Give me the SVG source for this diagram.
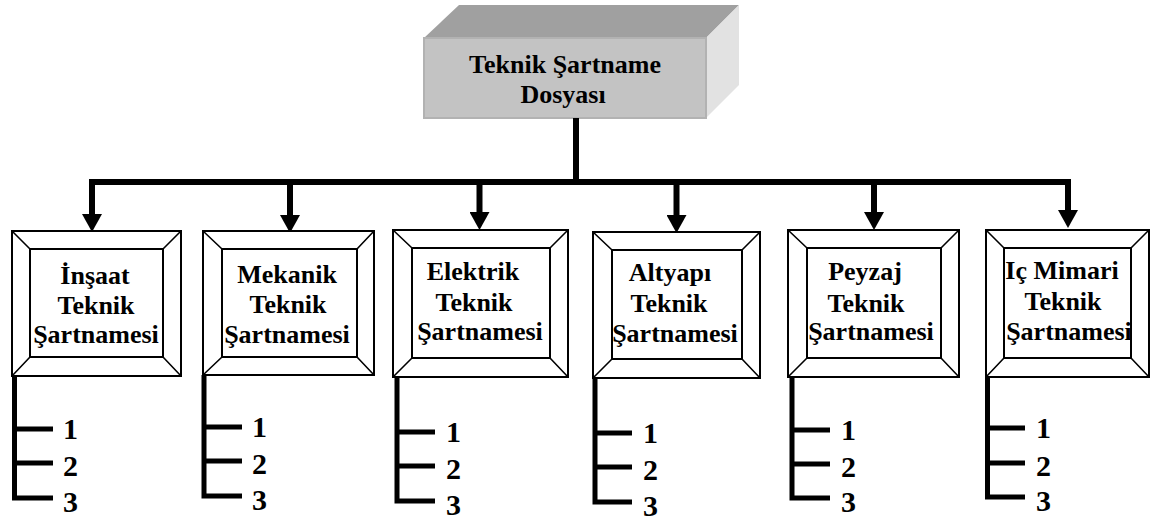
<svg xmlns="http://www.w3.org/2000/svg" width="1152" height="523" viewBox="0 0 1152 523">
<style>
.t{font-family:"Liberation Serif","Times New Roman",serif;font-weight:bold;font-size:26px;fill:#000;text-anchor:middle}
.n{font-family:"Liberation Serif","Times New Roman",serif;font-weight:bold;font-size:30px;fill:#000}
.fr{fill:#fff;stroke:#000;stroke-width:2}
.dg{fill:none;stroke:#000;stroke-width:1.6}
.cn{fill:none;stroke:#000;stroke-width:6}
.br{fill:none;stroke:#000;stroke-width:5;stroke-linejoin:miter}
</style>
<defs>
<marker id="ah" markerUnits="userSpaceOnUse" markerWidth="18" markerHeight="20" viewBox="0 0 18 20" refX="2" refY="10" orient="auto">
<path d="M0,0 L18,10 L0,20 Z" fill="#000"/>
</marker>
</defs>
<rect width="1152" height="523" fill="#fff"/>

<g id="root">
<polygon points="424,38 459,5 739,5 706,38" fill="#a0a0a0"/>
<polygon points="706,38 739,5 739,85 706,118" fill="#e2e2e2"/>
<rect x="424" y="38" width="282" height="80" fill="#c3c3c3" stroke="#b2b2b2" stroke-width="2"/>
<text class="t" x="565" y="73">Teknik Şartname</text>
<text class="t" x="563" y="103">Dosyası</text>
</g>

<g id="connectors">
<line class="cn" x1="576" y1="118" x2="576" y2="182"/>
<line class="cn" x1="89" y1="182" x2="1071" y2="182"/>
<line class="cn" x1="92" y1="179" x2="92" y2="216" marker-end="url(#ah)"/>
<line class="cn" x1="290" y1="182" x2="290" y2="217" marker-end="url(#ah)"/>
<line class="cn" x1="479.5" y1="182" x2="479.5" y2="214" marker-end="url(#ah)"/>
<line class="cn" x1="676.5" y1="182" x2="676.5" y2="217" marker-end="url(#ah)"/>
<line class="cn" x1="874" y1="182" x2="874" y2="214" marker-end="url(#ah)"/>
<line class="cn" x1="1068" y1="179" x2="1068" y2="212" marker-end="url(#ah)"/>
</g>

<g id="n1">
<rect class="fr" x="12" y="231" width="169" height="145"/>
<rect class="fr" x="30" y="249" width="133" height="108"/>
<path class="dg" d="M12,231 L30,249 M181,231 L163,249 M12,376 L30,357 M181,376 L163,357"/>
<text class="t" x="95" y="284">İnşaat</text>
<text class="t" x="96" y="314">Teknik</text>
<text class="t" x="96" y="343">Şartnamesi</text>
<path class="br" d="M53,498 H14.5 V376 M14.5,429 H53 M14.5,463 H53"/>
<text class="n" x="63" y="439">1</text>
<text class="n" x="63" y="476">2</text>
<text class="n" x="63" y="512">3</text>
</g>

<g id="n2">
<rect class="fr" x="203" y="231" width="171" height="144"/>
<rect class="fr" x="222" y="249" width="135" height="108"/>
<path class="dg" d="M203,231 L222,249 M374,231 L357,249 M203,375 L222,357 M374,375 L357,357"/>
<text class="t" x="287" y="283">Mekanik</text>
<text class="t" x="288" y="313">Teknik</text>
<text class="t" x="287" y="343">Şartnamesi</text>
<path class="br" d="M242,496 H204 V375 M204,427 H242 M204,461 H242"/>
<text class="n" x="252" y="437">1</text>
<text class="n" x="252" y="474">2</text>
<text class="n" x="252" y="510">3</text>
</g>

<g id="n3">
<rect class="fr" x="393" y="230" width="175" height="147"/>
<rect class="fr" x="412" y="248" width="138" height="110"/>
<path class="dg" d="M393,230 L412,248 M568,230 L550,248 M393,377 L412,358 M568,377 L550,358"/>
<text class="t" x="473" y="280">Elektrik</text>
<text class="t" x="474" y="311">Teknik</text>
<text class="t" x="480" y="340">Şartnamesi</text>
<path class="br" d="M435,501 H397 V377 M397,432 H435 M397,466 H435"/>
<text class="n" x="446" y="442">1</text>
<text class="n" x="446" y="479">2</text>
<text class="n" x="446" y="515">3</text>
</g>

<g id="n4">
<rect class="fr" x="593" y="232" width="167" height="146"/>
<rect class="fr" x="612" y="250" width="130" height="109"/>
<path class="dg" d="M593,232 L612,250 M760,232 L742,250 M593,378 L612,359 M760,378 L742,359"/>
<text class="t" x="670" y="281">Altyapı</text>
<text class="t" x="669" y="312">Teknik</text>
<text class="t" x="675" y="342">Şartnamesi</text>
<path class="br" d="M632,502 H595 V378 M595,433 H632 M595,467 H632"/>
<text class="n" x="643" y="443">1</text>
<text class="n" x="643" y="480">2</text>
<text class="n" x="643" y="516">3</text>
</g>

<g id="n5">
<rect class="fr" x="788" y="230" width="171" height="147"/>
<rect class="fr" x="807" y="248" width="134" height="110"/>
<path class="dg" d="M788,230 L807,248 M959,230 L941,248 M788,377 L807,358 M959,377 L941,358"/>
<text class="t" x="865" y="280">Peyzaj</text>
<text class="t" x="866" y="312">Teknik</text>
<text class="t" x="871" y="340">Şartnamesi</text>
<path class="br" d="M830,498 H792 V377 M792,430 H830 M792,464 H830"/>
<text class="n" x="841" y="440">1</text>
<text class="n" x="841" y="477">2</text>
<text class="n" x="841" y="512">3</text>
</g>

<g id="n6">
<rect class="fr" x="986" y="230" width="163" height="147"/>
<rect class="fr" x="1004" y="248" width="127" height="110"/>
<path class="dg" d="M986,230 L1004,248 M1149,230 L1131,248 M986,377 L1004,358 M1149,377 L1131,358"/>
<text class="t" x="1062" y="279">Iç Mimari</text>
<text class="t" x="1063" y="310">Teknik</text>
<text class="t" x="1069" y="340">Şartnamesi</text>
<path class="br" d="M1025,497 H987.5 V377 M987.5,428 H1025 M987.5,463 H1025"/>
<text class="n" x="1036" y="438">1</text>
<text class="n" x="1036" y="476">2</text>
<text class="n" x="1036" y="511">3</text>
</g>
</svg>
